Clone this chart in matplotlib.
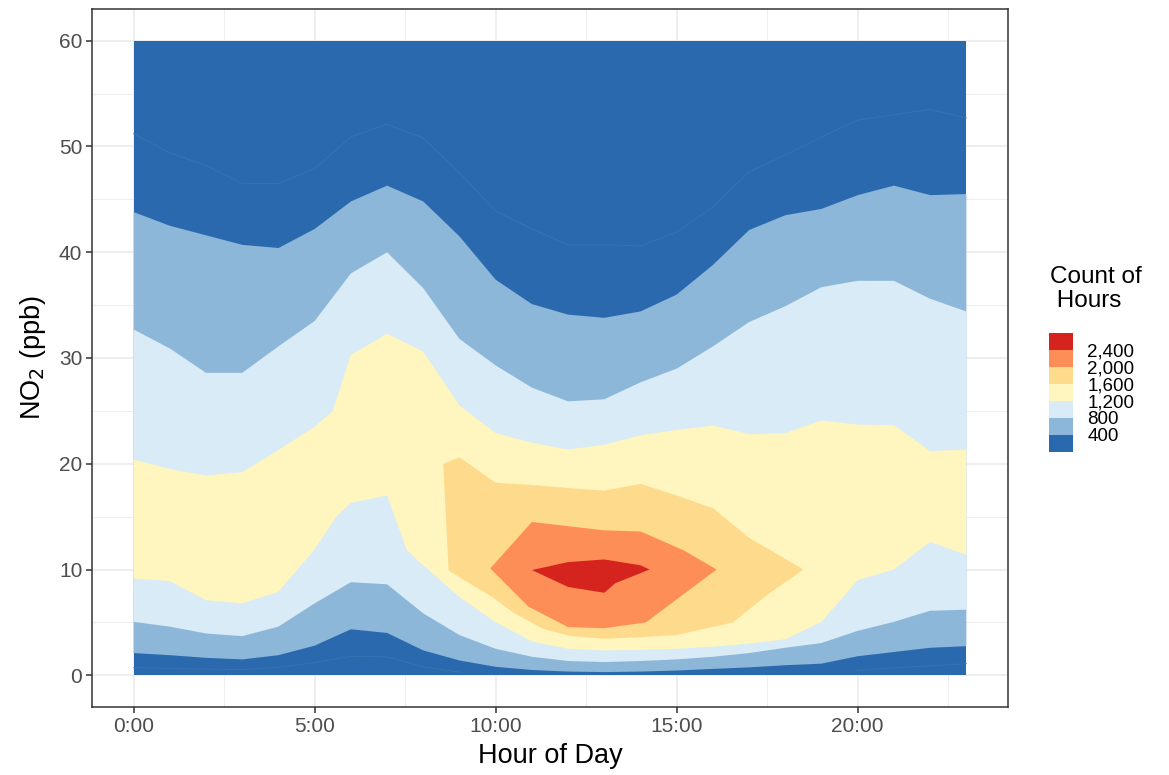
import numpy as np
import matplotlib.pyplot as plt

plt.rcParams['font.family'] = ['Liberation Sans', 'DejaVu Sans']

hours = list(range(24))

# NO2 level (ppb) where the hourly count crosses each contour level, read per hour
upper_400 = [43.8, 42.5, 41.6, 40.7, 40.4, 42.2, 44.8, 46.3, 44.8, 41.5, 37.4, 35.1,
             34.1, 33.8, 34.4, 36.0, 38.8, 42.1, 43.5, 44.1, 45.4, 46.3, 45.4, 45.5]
upper_200 = [51.2, 49.4, 48.2, 46.5, 46.5, 47.9, 50.9, 52.1, 50.8, 47.5, 43.9, 42.2,
             40.7, 40.7, 40.6, 41.9, 44.3, 47.6, 49.2, 50.9, 52.5, 53.0, 53.5, 52.7]
upper_800 = [32.7, 30.9, 28.6, 28.6, 31.1, 33.5, 38.0, 40.0, 36.6, 31.8, 29.3, 27.2,
             25.9, 26.1, 27.7, 29.0, 31.1, 33.4, 34.9, 36.7, 37.3, 37.3, 35.6, 34.4]
upper_1200_x = [0, 1, 2, 3, 4, 5, 5.5, 6, 7, 8, 9, 10, 11, 12, 13, 14, 15, 16, 17, 18, 19, 20, 21, 22, 23]
upper_1200 = [20.4, 19.5, 18.9, 19.2, 21.3, 23.5, 25.0, 30.3, 32.3, 30.6, 25.5, 22.9, 22.0,
              21.35, 21.8, 22.7, 23.2, 23.6, 22.8, 22.9, 24.1, 23.7, 23.65, 21.2, 21.35]
lower_1200_x = [0, 1, 2, 3, 4, 5, 5.6, 6, 7, 7.55, 8, 9, 10, 11, 12, 13, 14, 15, 16, 17, 18, 19, 20, 21, 22, 23]
lower_1200 = [9.15, 8.9, 7.1, 6.8, 7.9, 11.9, 15.0, 16.3, 17.0, 11.8, 10.4, 7.4, 5.0, 3.2,
              2.5, 2.35, 2.4, 2.5, 2.7, 3.0, 3.4, 5.05, 9.0, 10.0, 12.6, 11.4]
lower_800 = [5.05, 4.6, 3.95, 3.7, 4.6, 6.8, 8.8, 8.6, 5.85, 3.8, 2.5, 1.75,
             1.35, 1.25, 1.35, 1.5, 1.75, 2.1, 2.6, 3.05, 4.2, 5.05, 6.1, 6.2]
lower_400 = [2.1, 1.9, 1.65, 1.5, 1.9, 2.8, 4.35, 4.0, 2.35, 1.4, 0.8, 0.5,
             0.35, 0.3, 0.35, 0.45, 0.6, 0.75, 0.95, 1.1, 1.8, 2.2, 2.6, 2.75]
lower_200 = [0.73, 0.65, 0.58, 0.54, 0.75, 1.2, 1.8, 1.73, 0.8, 0.3, np.nan, np.nan,
             np.nan, np.nan, np.nan, np.nan, np.nan, np.nan, np.nan, np.nan, 0.47, 0.7, 0.9, 1.1]

# closed contours of the high-count core
ring_1600_x = [8.55, 9.0, 10.0, 11.0, 12.0, 13.0, 14.0, 15.0, 16.0, 17.0, 18.5,
               17.5, 16.55, 15.0, 14.0, 13.0, 12.0, 11.3, 10.5, 9.9, 8.7]
ring_1600_y = [20.0, 20.6, 18.2, 18.0, 17.7, 17.45, 18.1, 17.0, 15.8, 13.0, 10.0,
               7.6, 5.0, 3.8, 3.6, 3.45, 3.75, 4.4, 5.9, 7.4, 9.9]
ring_2000_x = [9.85, 11.0, 13.0, 14.0, 15.2, 16.1, 14.15, 13.0, 12.0, 10.9]
ring_2000_y = [10.1, 14.5, 13.7, 13.6, 11.8, 10.0, 5.0, 4.45, 4.55, 6.5]
ring_2400_x = [11.0, 12.0, 13.0, 14.0, 14.25, 13.3, 13.0, 12.0]
ring_2400_y = [9.95, 10.7, 10.95, 10.4, 10.0, 8.7, 7.8, 8.35]

level_labels = ['400', '800', '1,200', '1,600', '2,000', '2,400']
colors = ['#2B69AF', '#8CB7D8', '#D9EBF6', '#FFF6BF', '#FEDB8C', '#FD8E57', '#D5231D']

fig = plt.figure(figsize=(11.69, 7.75), dpi=100)
ax = fig.add_axes([92 / 1169, 1 - 707 / 775, 916 / 1169, 698 / 775])

def band(lo_x, lo_y, hi_x, hi_y, color):
    xs = list(lo_x) + list(hi_x)[::-1]
    ys = list(lo_y) + list(hi_y)[::-1]
    ax.fill(xs, ys, color=color, lw=0, zorder=2)

ax.fill_between([0, 23], 0, 60, color=colors[0], lw=0, zorder=2)
band(hours, lower_400, hours, upper_400, colors[1])
band(hours, lower_800, hours, upper_800, colors[2])
band(lower_1200_x, lower_1200, upper_1200_x, upper_1200, colors[3])
ax.fill(ring_1600_x, ring_1600_y, color=colors[4], lw=0, zorder=2)
ax.fill(ring_2000_x, ring_2000_y, color=colors[5], lw=0, zorder=2)
ax.fill(ring_2400_x, ring_2400_y, color=colors[6], lw=0, zorder=2)
# faint seams between same-colour bins
ax.plot(hours, upper_200, color='#3874B3', lw=0.6, zorder=3)
ax.plot(hours, lower_200, color='#3874B3', lw=0.6, zorder=3)

ax.set_xlim(-1.15, 24.15)
ax.set_ylim(-3, 63)
ax.set_xticks([0, 5, 10, 15, 20])
ax.set_xticklabels(['0:00', '5:00', '10:00', '15:00', '20:00'])
ax.set_xticks(np.arange(2.5, 24, 5), minor=True)
ax.set_yticks(range(0, 61, 10))
ax.set_yticks(range(5, 61, 10), minor=True)
ax.grid(which='major', color='#EBEBEB', lw=1.2, zorder=0)
ax.grid(which='minor', color='#EBEBEB', lw=0.6, zorder=0)
ax.set_axisbelow(True)
ax.tick_params(which='major', length=4, width=1.1, color='#333333', labelsize=15,
               labelcolor='#4D4D4D', pad=3)
ax.tick_params(which='minor', length=0)
for s in ax.spines.values():
    s.set_color('#333333')
    s.set_linewidth(1.1)
ax.set_xlabel('Hour of Day', fontsize=19.5, labelpad=5)
ax.set_ylabel('NO$_2$ (ppb)', fontsize=19.5, labelpad=8)

# legend
fig.text(1050 / 1169, 1 - 266 / 775, 'Count of\n Hours', fontsize=17.5,
         ha='left', va='top', linespacing=1.1)
lax = fig.add_axes([1049.3 / 1169, 1 - 451.7 / 775, 24 / 1169, 119 / 775])
lax.bar([0] * 7, [1] * 7, bottom=range(7), width=1, color=colors, lw=0)
lax.set_xlim(-0.5, 0.5)
lax.set_ylim(0, 7)
lax.set_xticks([])
lax.set_yticks(range(1, 7))
lax.set_yticklabels(level_labels)
lax.yaxis.tick_right()
lax.tick_params(axis='y', length=0, labelsize=13.5, pad=10)
for s in lax.spines.values():
    s.set_visible(False)

fig.savefig('out.png', dpi=100)
